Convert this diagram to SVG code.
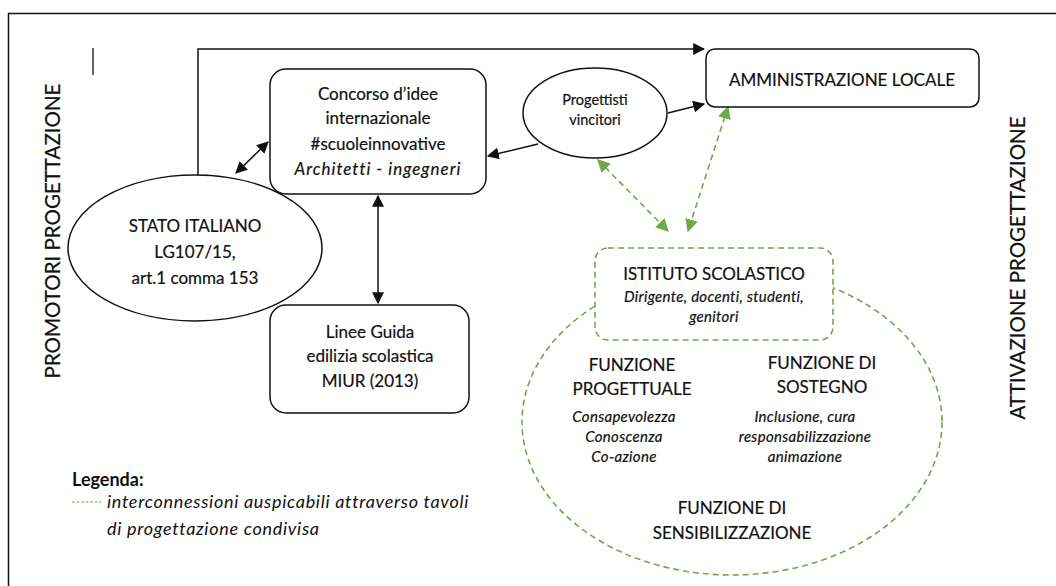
<svg xmlns="http://www.w3.org/2000/svg" width="1056" height="586" viewBox="0 0 1056 586">
<style>
.t{font-family:Lato,"Open Sans","Liberation Sans",sans-serif;fill:#111;text-anchor:middle;stroke:#111;stroke-width:0.2}
.l{font-family:Lato,"Open Sans","Liberation Sans",sans-serif;fill:#111}
.b{fill:#fff;stroke:#111;stroke-width:1.5}
.g{fill:#fff;stroke:#70a84a;stroke-width:1.6;stroke-dasharray:6 4}
.c{fill:none;stroke:#111;stroke-width:1.5}
.cg{fill:none;stroke:#70a84a;stroke-width:1.6;stroke-dasharray:6 4}
.i{font-style:italic}
.s{font-size:15px;letter-spacing:0.3px}
</style>
<defs>
<marker id="ab" viewBox="0 0 10 10" refX="9" refY="5" markerWidth="12" markerHeight="12" markerUnits="userSpaceOnUse" orient="auto-start-reverse"><path d="M0,0 L10,5 L0,10 z" fill="#111"/></marker>
<marker id="ag" viewBox="0 0 10 10" refX="9" refY="5" markerWidth="13" markerHeight="13" markerUnits="userSpaceOnUse" orient="auto-start-reverse"><path d="M0,0 L10,5 L0,10 z" fill="#70a84a"/></marker>
</defs>
<rect x="0" y="0" width="1056" height="586" fill="#fff"/>
<rect x="8.5" y="13.5" width="1060" height="600" fill="none" stroke="#111" stroke-width="1.5"/>
<line x1="93" y1="48" x2="93" y2="75" stroke="#111" stroke-width="1.3"/>

<text class="t" transform="translate(60,231) rotate(-90)" font-size="20.5">PROMOTORI PROGETTAZIONE</text>
<text class="t" transform="translate(1025,268) rotate(-90)" font-size="20.5">ATTIVAZIONE PROGETTAZIONE</text>

<g id="sensibilizzazione">
<ellipse cx="732" cy="422" rx="210" ry="153" class="g" fill="none"/>
</g>

<g id="connectors">
<polyline points="198,175 198,49 704,49" class="c" marker-end="url(#ab)"/>
<line x1="236" y1="173" x2="268" y2="142" class="c" marker-start="url(#ab)" marker-end="url(#ab)"/>
<line x1="668" y1="113" x2="704" y2="104" class="c" marker-end="url(#ab)"/>
<line x1="538" y1="144" x2="488" y2="156" class="c" marker-end="url(#ab)"/>
<line x1="378" y1="196" x2="378" y2="303" class="c" marker-start="url(#ab)" marker-end="url(#ab)"/>
<line x1="598" y1="160" x2="668" y2="231" class="cg" marker-start="url(#ag)" marker-end="url(#ag)"/>
<line x1="728" y1="107" x2="688" y2="231" class="cg" marker-start="url(#ag)" marker-end="url(#ag)"/>
</g>

<g id="stato">
<ellipse cx="195" cy="248" rx="127" ry="73" class="b"/>
<text class="t" x="195" y="232" font-size="17">STATO ITALIANO</text>
<text class="t" x="195" y="258" font-size="17">LG107/15,</text>
<text class="t" x="195" y="284" font-size="17">art.1 comma 153</text>
</g>

<g id="concorso">
<rect x="270" y="69" width="216" height="125" rx="16" class="b"/>
<text class="t" x="378" y="100" font-size="17">Concorso d’idee</text>
<text class="t" x="378" y="124" font-size="17">internazionale</text>
<text class="t" x="378" y="150" font-size="17">#scuoleinnovative</text>
<text class="t i" x="378" y="175" font-size="17" letter-spacing="1">Architetti - ingegneri</text>
</g>

<g id="progettisti">
<ellipse cx="595" cy="113" rx="72" ry="45" class="b"/>
<text class="t" x="595" y="105" font-size="14.5" stroke-width="0.4">Progettisti</text>
<text class="t" x="595" y="125" font-size="14.5" stroke-width="0.4">vincitori</text>
</g>

<g id="amministrazione">
<rect x="706" y="49" width="273" height="58" rx="9" class="b"/>
<text class="t" x="842" y="86" font-size="17">AMMINISTRAZIONE LOCALE</text>
</g>

<g id="linee">
<rect x="270" y="305" width="199" height="108" rx="16" class="b"/>
<text class="t" x="370" y="338" font-size="17">Linee Guida</text>
<text class="t" x="370" y="362" font-size="17">edilizia scolastica</text>
<text class="t" x="370" y="387" font-size="17">MIUR (2013)</text>
</g>

<g id="istituto">
<rect x="595" y="248" width="238" height="92" rx="13" class="g"/>
<text class="t" x="714" y="280" font-size="17">ISTITUTO SCOLASTICO</text>
<text class="t i s" x="714" y="302">Dirigente, docenti, studenti,</text>
<text class="t i s" x="714" y="322">genitori</text>
</g>

<g id="funzione-progettuale">
<text class="t" x="632" y="371" font-size="17">FUNZIONE</text>
<text class="t" x="632" y="395" font-size="17">PROGETTUALE</text>
<text class="t i s" x="624" y="422">Consapevolezza</text>
<text class="t i s" x="624" y="442">Conoscenza</text>
<text class="t i s" x="624" y="462">Co-azione</text>
</g>

<g id="funzione-sostegno">
<text class="t" x="822" y="369" font-size="17">FUNZIONE DI</text>
<text class="t" x="822" y="393" font-size="17">SOSTEGNO</text>
<text class="t i s" x="805" y="422">Inclusione, cura</text>
<text class="t i s" x="805" y="442">responsabilizzazione</text>
<text class="t i s" x="805" y="462">animazione</text>
</g>

<g id="funzione-sensibilizzazione-label">
<text class="t" x="732" y="514" font-size="17">FUNZIONE DI</text>
<text class="t" x="732" y="539" font-size="17">SENSIBILIZZAZIONE</text>
</g>

<g id="legenda">
<text class="l" x="72" y="486" font-size="18" font-weight="bold">Legenda:</text>
<line x1="72" y1="502" x2="101" y2="502" stroke="#70a84a" stroke-width="1" stroke-dasharray="3 1.5"/>
<text class="l i" x="107" y="508" font-size="18" letter-spacing="0.7">interconnessioni auspicabili attraverso tavoli</text>
<text class="l i" x="107" y="535" font-size="18" letter-spacing="0.7">di progettazione condivisa</text>
</g>
</svg>
